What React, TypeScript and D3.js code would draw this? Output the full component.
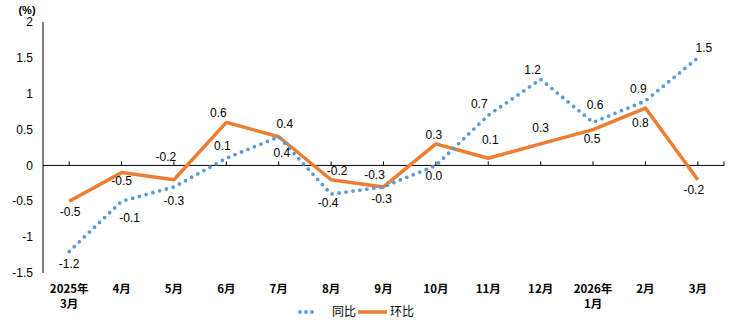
import React from "react";
import * as d3 from "d3";

const categories = ["2025年\n3月", "4月", "5月", "6月", "7月", "8月", "9月", "10月", "11月", "12月", "2026年\n1月", "2月", "3月"];
const yoy = [-1.2, -0.5, -0.3, 0.1, 0.4, -0.4, -0.3, 0.0, 0.7, 1.2, 0.6, 0.9, 1.5];
const mom = [-0.5, -0.1, -0.2, 0.6, 0.4, -0.2, -0.3, 0.3, 0.1, 0.3, 0.5, 0.8, -0.2];
const yTicks = [-1.5, -1, -0.5, 0, 0.5, 1, 1.5, 2];

// label offsets (layout only)
const yoyLabelOffset: [number, number][] = [
  [0, 12], [0, -20], [0, 14], [-4, -12], [3, 16], [-3, 9], [-2, 12], [-2, 10], [-9, -11], [-8, -10], [2, -18], [-7, -12], [6, -10],
];
const momLabelOffset: [number, number][] = [
  [1, 11], [8, 45], [-8, -23], [-8, -10], [6, -13], [6, -9], [-9, -12], [-2, -9], [2, -18], [0, -16], [-1, 9], [-5, 15], [-4, 10],
];

const W = 733, H = 322;
const left = 43, right = 724, top = 22, bottom = 273;

export default function App() {
  const x = d3.scaleBand<number>().domain(d3.range(categories.length)).range([left, right]);
  const cx = (i: number) => (x(i) as number) + x.bandwidth() / 2;
  const y = d3.scaleLinear().domain([-1.5, 2]).range([bottom, top]);
  const line = d3.line<number>().x((_, i) => cx(i)).y((d) => y(d));
  const fmt = (v: number) => v.toFixed(1);
  const numFont = "'Liberation Sans', Arial, sans-serif";
  const cjkFont = "'Noto Sans CJK SC', 'Liberation Sans', sans-serif";

  return (
    <div style={{ position: "fixed", left: 0, top: 0 }}>
      <svg width={W} height={H} style={{ display: "block", background: "#fff" }}>
        <text x={27} y={14} fontSize={11} fontWeight="bold" fontFamily={numFont} textAnchor="middle" fill="#000">(%)</text>
        {yTicks.map((t) => (
          <text key={t} x={33} y={y(t)} dy="0.35em" fontSize={12} fontFamily={numFont} textAnchor="end" fill="#000">
            {t}
          </text>
        ))}
        <line x1={left} x2={left} y1={top} y2={bottom} stroke="#000" strokeWidth={1} />
        <line x1={left} x2={right} y1={y(0)} y2={y(0)} stroke="#000" strokeWidth={1} />
        {[...categories.map((_, i) => cx(i)), right].map((px, i) => (
          <line key={i} x1={px} x2={px} y1={y(0)} y2={y(0) - 4} stroke="#000" strokeWidth={1} />
        ))}
        {categories.map((c, i) => {
          const parts = c.split("\n");
          return (
            <text key={i} x={cx(i)} y={293} fontSize={11.5} fontWeight="bold" fontFamily={cjkFont} textAnchor="middle" fill="#000">
              {parts.map((p, j) => (
                <tspan key={j} x={cx(i)} dy={j === 0 ? 0 : 15}>{p}</tspan>
              ))}
            </text>
          );
        })}
        <path d={line(mom) as string} fill="none" stroke="#ED7D31" strokeWidth={3.5} strokeLinejoin="round" />
        <path d={line(yoy) as string} fill="none" stroke="#5B9BD5" strokeWidth={3.8} strokeLinecap="round" strokeDasharray="0 7" />
        {yoy.map((v, i) => (
          <text key={"a" + i} x={cx(i) + yoyLabelOffset[i][0]} y={y(v) + yoyLabelOffset[i][1]} dy="0.35em" fontSize={12} fontFamily={numFont} textAnchor="middle" fill="#000">
            {fmt(v)}
          </text>
        ))}
        {mom.map((v, i) => (
          <text key={"b" + i} x={cx(i) + momLabelOffset[i][0]} y={y(v) + momLabelOffset[i][1]} dy="0.35em" fontSize={12} fontFamily={numFont} textAnchor="middle" fill="#000">
            {fmt(v)}
          </text>
        ))}
        <line x1={300} x2={318} y1={312} y2={312} stroke="#5B9BD5" strokeWidth={3.8} strokeLinecap="round" strokeDasharray="0 6" />
        <text x={332} y={312} dy="0.35em" fontSize={12} fontFamily={cjkFont} fill="#000">同比</text>
        <line x1={358} x2={387} y1={312} y2={312} stroke="#ED7D31" strokeWidth={3.5} />
        <text x={390} y={312} dy="0.35em" fontSize={12} fontFamily={cjkFont} fill="#000">环比</text>
      </svg>
    </div>
  );
}
